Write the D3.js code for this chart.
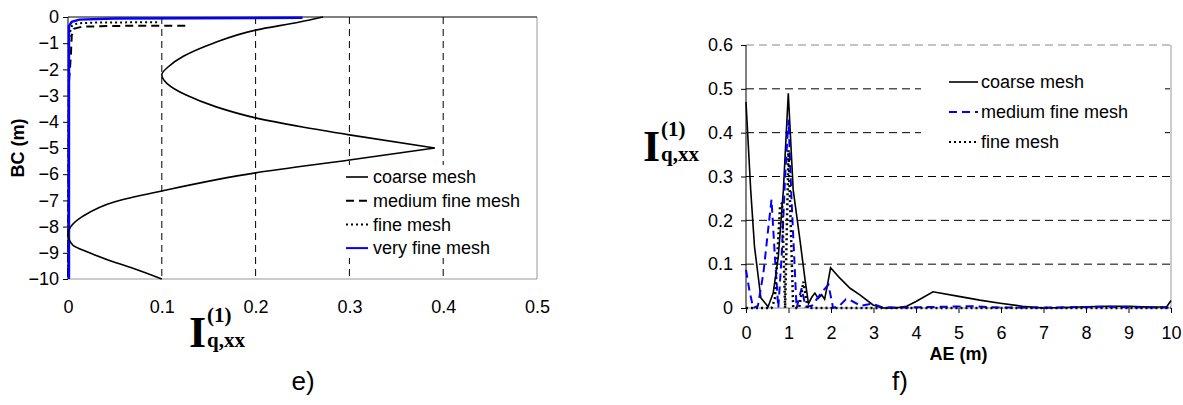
<!DOCTYPE html>
<html>
<head>
<meta charset="utf-8">
<script src="https://cdn.jsdelivr.net/npm/d3@7"></script>
<style>
  body { margin: 0; background: #fff; }
  svg { display: block; font-family: "Liberation Sans", Arial, sans-serif; }
</style>
</head>
<body>
<svg id="chart" width="1183" height="405"></svg>
<script>
// ---------- DATA ----------
// Panel e): I(1)q,xx (x) versus depth BC (m) (y)
const eXTicks = [0, 0.1, 0.2, 0.3, 0.4, 0.5];
const eYTicks = [0, -1, -2, -3, -4, -5, -6, -7, -8, -9, -10];
const eSeriesNames = ["coarse mesh", "medium fine mesh", "fine mesh", "very fine mesh"];
const eCoarseUpper = [[0.272,0],[0.247,-0.19],[0.2,-0.5],[0.155,-1.0],[0.123,-1.5],[0.107,-1.9],[0.1,-2.2],[0.106,-2.55],[0.126,-2.98],[0.158,-3.43],[0.2,-3.85],[0.25,-4.2],[0.3,-4.5],[0.391,-5.0]];
const eCoarseLower = [[0.391,-5.0],[0.3,-5.46],[0.2,-5.95],[0.1,-6.64],[0.05,-7.05],[0.016,-7.6],[0.003,-8.0],[0,-8.3],[0.005,-8.7],[0.023,-9.0],[0.045,-9.3],[0.07,-9.6],[0.1,-10]];
const eMedium = [[0.125,-0.33],[0.05,-0.34],[0.015,-0.37],[0.006,-0.45],[0.004,-0.7],[0.003,-1.5],[0.001,-2.5],[0,-10]];
const eFine = [[0.095,-0.2],[0.03,-0.21],[0.01,-0.24],[0.004,-0.35],[0.002,-0.6],[0.001,-1.0],[0,-10]];
const eVeryFine = [[0.001,-10],[0.001,-0.35],[0.004,-0.18],[0.012,-0.1],[0.05,-0.06],[0.25,-0.03]];

// Panel f): I(1)q,xx (y) versus AE (m) (x)
const fXTicks = [0, 1, 2, 3, 4, 5, 6, 7, 8, 9, 10];
const fYTicks = [0, 0.1, 0.2, 0.3, 0.4, 0.5, 0.6];
const fSeriesNames = ["coarse mesh", "medium fine mesh", "fine mesh"];
const fCoarse = [[0,0.47],[0.11,0.27],[0.2,0.14],[0.35,0.023],[0.42,0.015],[0.52,0.003],[0.64,0.034],[0.76,0.117],[0.88,0.27],[0.995,0.49],[1.11,0.27],[1.27,0.155],[1.39,0.064],[1.47,0.01],[1.55,0.025],[1.62,0.034],[1.70,0.022],[1.78,0.03],[1.85,0.02],[1.91,0.049],[1.99,0.092],[2.21,0.068],[2.45,0.045],[2.68,0.03],[2.99,0.007],[3.22,0.0],[3.5,0.0],[3.78,0.004],[4.0,0.015],[4.4,0.037],[5.04,0.026],[5.5,0.018],[5.98,0.011],[6.5,0.004],[7.0,0.0],[7.5,0.001],[8.0,0.003],[8.5,0.004],[9.0,0.004],[9.5,0.002],[9.9,0.003],[10,0.017]];
const fMedium = [[0,0.087],[0.08,0.04],[0.17,0.0],[0.28,0.005],[0.41,0.08],[0.52,0.178],[0.6,0.247],[0.68,0.117],[0.76,0.0],[0.84,0.12],[0.92,0.3],[1.0,0.43],[1.07,0.25],[1.19,0.0],[1.31,0.045],[1.4,0.003],[1.55,0.005],[1.7,0.025],[1.82,0.04],[1.94,0.053],[2.05,0.0],[2.2,0.005],[2.35,0.02],[2.45,0.018],[2.7,0.005],[2.96,0.01],[3.2,0.002],[3.6,0.001],[4.2,0.002],[5.3,0.004],[6,0.001],[7,0.001],[8.5,0.003],[9,0.002],[10,0.001]];
const fFine = [[0,0.0],[0.6,0.0],[0.68,0.02],[0.8,0.23],[0.85,0.24],[0.92,0.0],[1.0,0.36],[1.11,0.0],[1.25,0.0],[1.35,0.06],[1.45,0.0],[2,0],[10,0]];

// ---------- DRAW ----------
const svg = d3.select("#chart");
const FONT = 18;

// ===== Panel e =====
const xL = d3.scaleLinear().domain([0, 0.5]).range([68, 537]);
const yL = d3.scaleLinear().domain([-10, 0]).range([279, 17]);
const gE = svg.append("g");

gE.selectAll(".vg").data(eXTicks.filter(d => d > 0 && d < 0.5)).join("line")
  .attr("x1", d => xL(d)).attr("x2", d => xL(d))
  .attr("y1", yL(0)).attr("y2", yL(-10))
  .attr("stroke", "#000").attr("stroke-width", 1).attr("stroke-dasharray", "7,5");

gE.append("line").attr("x1", xL(0)).attr("x2", xL(0.5)).attr("y1", yL(-10)).attr("y2", yL(-10)).attr("stroke", "#999");
gE.append("line").attr("x1", xL(0.5)).attr("x2", xL(0.5)).attr("y1", yL(0)).attr("y2", yL(-10)).attr("stroke", "#999");
gE.append("line").attr("x1", xL(0)).attr("x2", xL(0.5)).attr("y1", yL(0)).attr("y2", yL(0)).attr("stroke", "#000");
gE.append("line").attr("x1", xL(0)).attr("x2", xL(0)).attr("y1", yL(0)).attr("y2", yL(-10)).attr("stroke", "#000");

const eYAxis = gE.append("g").attr("transform", `translate(${xL(0)},0)`)
  .call(d3.axisLeft(yL).tickValues(eYTicks).tickSize(5).tickPadding(4).tickFormat(d3.format("d")));
const eXAxis = gE.append("g").attr("transform", `translate(0,${yL(-10)})`)
  .call(d3.axisBottom(xL).tickValues(eXTicks).tickSize(0).tickPadding(21).tickFormat(d => d === 0 ? "0" : d3.format(".1f")(d)));
[eYAxis, eXAxis].forEach(a => {
  a.select(".domain").remove();
  a.selectAll("text").attr("font-size", FONT).attr("font-family", "Liberation Sans, Arial, sans-serif").attr("fill", "#000");
  a.selectAll(".tick line").attr("stroke", "#000");
});

const lineE = d3.line().x(d => xL(d[0])).y(d => yL(d[1]));
const smoothE = d3.line().x(d => xL(d[0])).y(d => yL(d[1])).curve(d3.curveMonotoneY);
gE.append("path").datum(eFine).attr("d", lineE).attr("fill", "none").attr("stroke", "#000").attr("stroke-width", 2).attr("stroke-dasharray", "2,3");
gE.append("path").datum(eMedium).attr("d", lineE).attr("fill", "none").attr("stroke", "#000").attr("stroke-width", 2).attr("stroke-dasharray", "8,5");
gE.append("path").datum(eVeryFine).attr("d", lineE).attr("fill", "none").attr("stroke", "#0000ff").attr("stroke-width", 2.5);
[eCoarseUpper, eCoarseLower].forEach(seg => {
  gE.append("path").datum(seg).attr("d", smoothE).attr("fill", "none").attr("stroke", "#000").attr("stroke-width", 1.6);
});

const eStyles = [
  {stroke: "#000", dash: null, w: 1.6},
  {stroke: "#000", dash: "8,5", w: 2},
  {stroke: "#000", dash: "2,3", w: 2},
  {stroke: "#0000ff", dash: null, w: 2}
];
gE.append("rect").attr("x", 340).attr("y", 165).attr("width", 192).attr("height", 93).attr("fill", "#fff");
const eLeg = gE.selectAll(".leg").data(eSeriesNames).join("g")
  .attr("transform", (d, i) => `translate(346,${177 + i * 23.7})`);
eLeg.append("line").attr("x1", 0).attr("x2", 22).attr("y1", 0).attr("y2", 0)
  .attr("stroke", (d, i) => eStyles[i].stroke).attr("stroke-width", (d, i) => eStyles[i].w)
  .attr("stroke-dasharray", (d, i) => eStyles[i].dash);
eLeg.append("text").attr("x", 27).attr("y", 0).attr("dy", "0.35em").attr("font-size", FONT).text(d => d);

gE.append("text").attr("transform", `translate(24,${(yL(0) + yL(-10)) / 2}) rotate(-90)`)
  .attr("text-anchor", "middle").attr("font-size", FONT).attr("font-weight", "bold").text("BC (m)");

function mathLabel(g, x, y) {
  const serif = "Liberation Serif, Times New Roman, serif";
  g.append("text").attr("x", x).attr("y", y).attr("font-family", serif)
    .attr("font-weight", "bold").attr("font-size", 44).text("I");
  g.append("text").attr("x", x + 18).attr("y", y - 25).attr("font-family", serif)
    .attr("font-weight", "bold").attr("font-size", 21).text("(1)");
  g.append("text").attr("x", x + 18).attr("y", y).attr("font-family", serif)
    .attr("font-weight", "bold").attr("font-size", 21).text("q,xx");
}
mathLabel(gE, 189, 347);
gE.append("text").attr("x", 303).attr("y", 390).attr("text-anchor", "middle").attr("font-size", 26).text("e)");

// ===== Panel f =====
const xR = d3.scaleLinear().domain([0, 10]).range([746, 1171]);
const yR = d3.scaleLinear().domain([0, 0.6]).range([308, 45]);
const gF = svg.append("g");

gF.selectAll(".hg").data(fYTicks.filter(d => d > 0)).join("line")
  .attr("x1", xR(0)).attr("x2", xR(10))
  .attr("y1", d => yR(d)).attr("y2", d => yR(d))
  .attr("stroke", d => d === 0.6 ? "#888" : "#000").attr("stroke-width", 1).attr("stroke-dasharray", "8,5");

gF.append("line").attr("x1", xR(10)).attr("x2", xR(10)).attr("y1", yR(0.6)).attr("y2", yR(0)).attr("stroke", "#999");
gF.append("line").attr("x1", xR(0)).attr("x2", xR(10)).attr("y1", yR(0)).attr("y2", yR(0)).attr("stroke", "#888");
gF.append("line").attr("x1", xR(0)).attr("x2", xR(0)).attr("y1", yR(0.6)).attr("y2", yR(0)).attr("stroke", "#000");

const fYAxis = gF.append("g").attr("transform", `translate(${xR(0)},0)`)
  .call(d3.axisLeft(yR).tickValues(fYTicks).tickSize(5).tickPadding(8).tickFormat(d => d === 0 ? "0" : d3.format(".1f")(d)));
const fXAxis = gF.append("g").attr("transform", `translate(0,${yR(0)})`)
  .call(d3.axisBottom(xR).tickValues(fXTicks).tickSize(5).tickPadding(13).tickFormat(d3.format("d")));
[fYAxis, fXAxis].forEach(a => {
  a.select(".domain").remove();
  a.selectAll("text").attr("font-size", FONT).attr("font-family", "Liberation Sans, Arial, sans-serif").attr("fill", "#000");
  a.selectAll(".tick line").attr("stroke", "#000");
});

const lineF = d3.line().x(d => xR(d[0])).y(d => yR(d[1]));
gF.append("path").datum(fCoarse).attr("d", lineF).attr("fill", "none").attr("stroke", "#000").attr("stroke-width", 1.6);
gF.append("path").datum(fMedium).attr("d", lineF).attr("fill", "none").attr("stroke", "#0000ff").attr("stroke-width", 2).attr("stroke-dasharray", "8,5");
gF.append("path").datum(fFine).attr("d", lineF).attr("fill", "none").attr("stroke", "#000").attr("stroke-width", 2.5).attr("stroke-dasharray", "2,3");

const fStyles = [
  {stroke: "#000", dash: null, w: 1.6},
  {stroke: "#0000ff", dash: "8,5", w: 2},
  {stroke: "#000", dash: "2,3", w: 2}
];
gF.append("rect").attr("x", 921).attr("y", 62).attr("width", 244).attr("height", 100).attr("fill", "#fff");
const fLeg = gF.selectAll(".legf").data(fSeriesNames).join("g")
  .attr("transform", (d, i) => `translate(949,${82 + i * 30})`);
fLeg.append("line").attr("x1", 0).attr("x2", 29).attr("y1", 0).attr("y2", 0)
  .attr("stroke", (d, i) => fStyles[i].stroke).attr("stroke-width", (d, i) => fStyles[i].w)
  .attr("stroke-dasharray", (d, i) => fStyles[i].dash);
fLeg.append("text").attr("x", 32).attr("y", 0).attr("dy", "0.35em").attr("font-size", FONT).text(d => d);

gF.append("text").attr("x", (xR(0) + xR(10)) / 2).attr("y", 360).attr("text-anchor", "middle")
  .attr("font-size", FONT).attr("font-weight", "bold").text("AE (m)");
mathLabel(gF, 643, 161);
gF.append("text").attr("x", 900).attr("y", 390).attr("text-anchor", "middle").attr("font-size", 26).text("f)");
</script>
</body>
</html>
